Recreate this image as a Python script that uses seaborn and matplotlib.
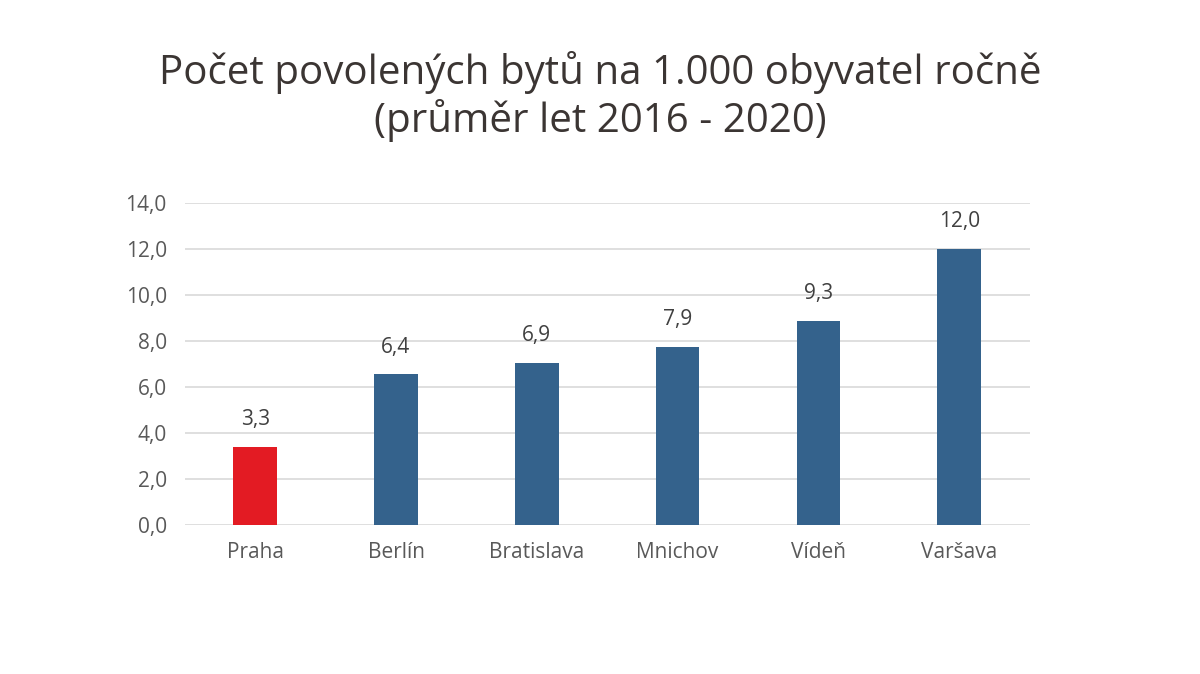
import matplotlib
matplotlib.use("Agg")
import matplotlib.pyplot as plt
import seaborn as sns
import pandas as pd

cities = ["Praha", "Berlín", "Bratislava", "Mnichov", "Vídeň", "Varšava"]
bar_heights = [3.4, 6.55, 7.05, 7.75, 8.87, 12.0]
label_values = [3.3, 6.4, 6.9, 7.9, 9.3, 12.0]
colors = ["#E31B23", "#34628C", "#34628C", "#34628C", "#34628C", "#34628C"]
yticks = [0, 2, 4, 6, 8, 10, 12, 14]

sns.set_theme(style="white")
plt.rcParams['font.family'] = ['Open Sans', 'DejaVu Sans']

df = pd.DataFrame({"city": cities, "value": bar_heights})

fig = plt.figure(figsize=(12, 6.74), dpi=100)
ax = fig.add_axes([0.154, 0.221, 0.704, 0.478])
sns.barplot(data=df, x="city", y="value", hue="city", palette=colors,
            legend=False, width=0.31, ax=ax, edgecolor="none", saturation=1)

ax.set_ylim(0, 14)
ax.set_yticks(yticks)
ax.set_yticklabels([f"{v:.1f}".replace(".", ",") for v in yticks])
ax.yaxis.grid(True, color="#d9d9d9", linewidth=1.2)
ax.set_axisbelow(True)
for s in ax.spines.values():
    s.set_visible(False)
ax.tick_params(axis="both", length=0, labelsize=15, labelcolor="#595959")
ax.tick_params(axis="y", pad=13)
ax.tick_params(axis="x", pad=12)
ax.set_xlabel("")
ax.set_ylabel("")

for i, (h, lv) in enumerate(zip(bar_heights, label_values)):
    ax.annotate(f"{lv:.1f}".replace(".", ","), (i, h), xytext=(0, 12),
                textcoords="offset points", ha="center", va="bottom",
                fontsize=15, color="#404040")

fig.suptitle("Počet povolených bytů na 1.000 obyvatel ročně\n(průměr let 2016 - 2020)",
             y=0.925, fontsize=29, color="#3b3533", linespacing=1.15)

fig.savefig("out.png", dpi=100, facecolor="white")
